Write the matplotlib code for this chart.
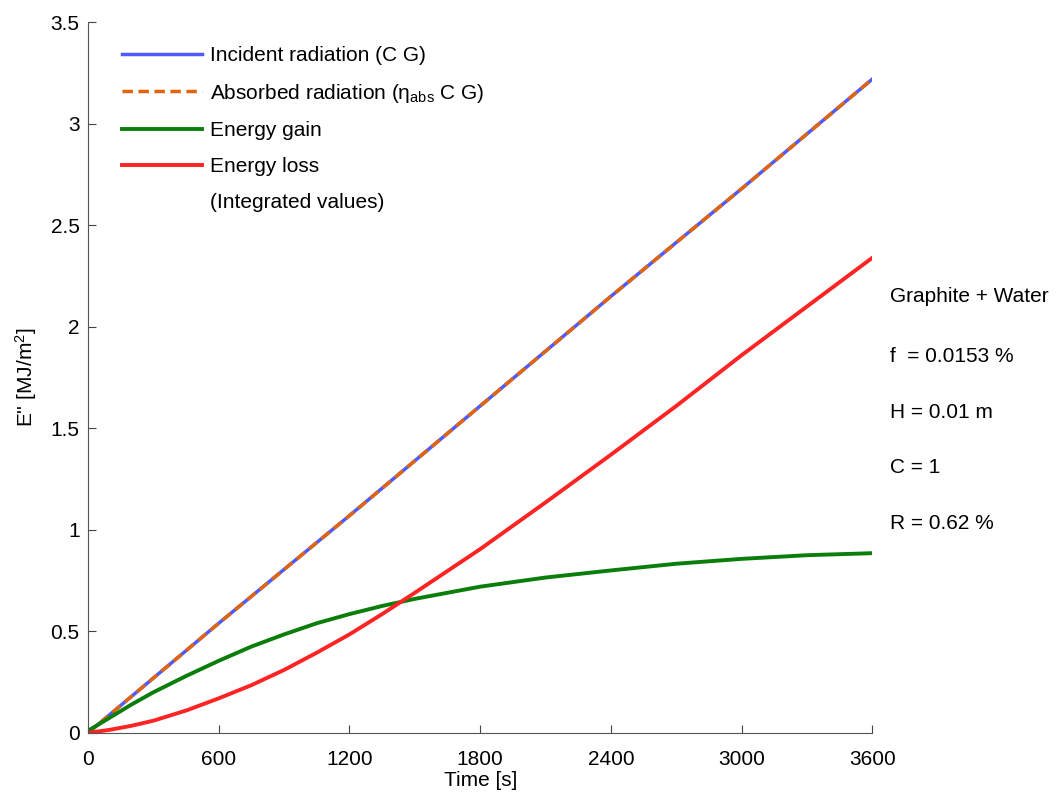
import matplotlib.pyplot as plt
from matplotlib.lines import Line2D

plt.rcParams['font.family'] = ['Liberation Sans', 'DejaVu Sans']
plt.rcParams['mathtext.fontset'] = 'custom'
plt.rcParams['mathtext.rm'] = 'Liberation Sans'
plt.rcParams['mathtext.it'] = 'Liberation Sans'

# Data (time in s, energy in MJ/m2)
t_rad = [0, 600, 1200, 1800, 2400, 3000, 3600]
incident = [0, 0.54, 1.07, 1.61, 2.15, 2.68, 3.22]
absorbed = [0, 0.54, 1.07, 1.61, 2.15, 2.68, 3.22]

t_e = [0, 100, 200, 300, 450, 600, 750, 900, 1050, 1200, 1350, 1500, 1800, 2100, 2400, 2700, 3000, 3300, 3600]
gain = [0.01, 0.075, 0.14, 0.20, 0.28, 0.355, 0.425, 0.485, 0.54, 0.585, 0.625, 0.66, 0.72, 0.765, 0.80, 0.833, 0.857, 0.875, 0.885]
loss = [0.0, 0.015, 0.035, 0.06, 0.11, 0.17, 0.235, 0.31, 0.395, 0.485, 0.585, 0.69, 0.905, 1.135, 1.37, 1.61, 1.86, 2.10, 2.34]

xticks = [0, 600, 1200, 1800, 2400, 3000, 3600]
yticks = [0, 0.5, 1, 1.5, 2, 2.5, 3, 3.5]
ytick_labels = ['0', '0.5', '1', '1.5', '2', '2.5', '3', '3.5']

info = ['Graphite + Water', 'f  = 0.0153 %', 'H = 0.01 m', 'C = 1', 'R = 0.62 %']

fs = 15

fig = plt.figure(figsize=(10.57, 7.94), dpi=100)
ax = fig.add_axes([0.0833, 0.077, 0.742, 0.895])

ax.plot(t_rad, incident, color='#4F5BFF', lw=2.5, label='Incident radiation (C G)')
ax.plot(t_rad, absorbed, color='#E0650F', lw=2.5, ls=(0, (3, 1.6)),
        label=r'Absorbed radiation ($\mathrm{\eta_{abs}}$ C G)')
ax.plot(t_e, gain, color='#0A7D0A', lw=2.8, label='Energy gain')
ax.plot(t_e, loss, color='#FF2424', lw=2.8, label='Energy loss')
ax.add_line(Line2D([], [], color='none', label='(Integrated values)'))

ax.set_xlim(0, 3600)
ax.set_ylim(0, 3.5)
ax.set_xticks(xticks)
ax.set_yticks(yticks)
ax.set_yticklabels(ytick_labels)
ax.tick_params(direction='in', length=6, labelsize=fs, colors='#444444',
               labelcolor='black')
ax.tick_params(axis='x', pad=12)
ax.tick_params(axis='y', pad=6)
ax.spines['top'].set_visible(False)
ax.spines['right'].set_visible(False)
for s in ['left', 'bottom']:
    ax.spines[s].set_color('#555555')

ax.set_xlabel('Time [s]', fontsize=fs, labelpad=2)
ax.set_ylabel("E'' [MJ/m$^2$]", fontsize=fs, labelpad=8)

leg = ax.legend(loc='upper left', bbox_to_anchor=(0.02, 0.993), frameon=False,
                fontsize=fs, handlelength=3.8, handletextpad=0.4,
                labelspacing=0.8)

ys = [0.626, 0.551, 0.481, 0.411, 0.341]
for txt, yy in zip(info, ys):
    fig.text(0.842, yy, txt, fontsize=fs, va='center', ha='left')

fig.savefig('out.png', dpi=100)
